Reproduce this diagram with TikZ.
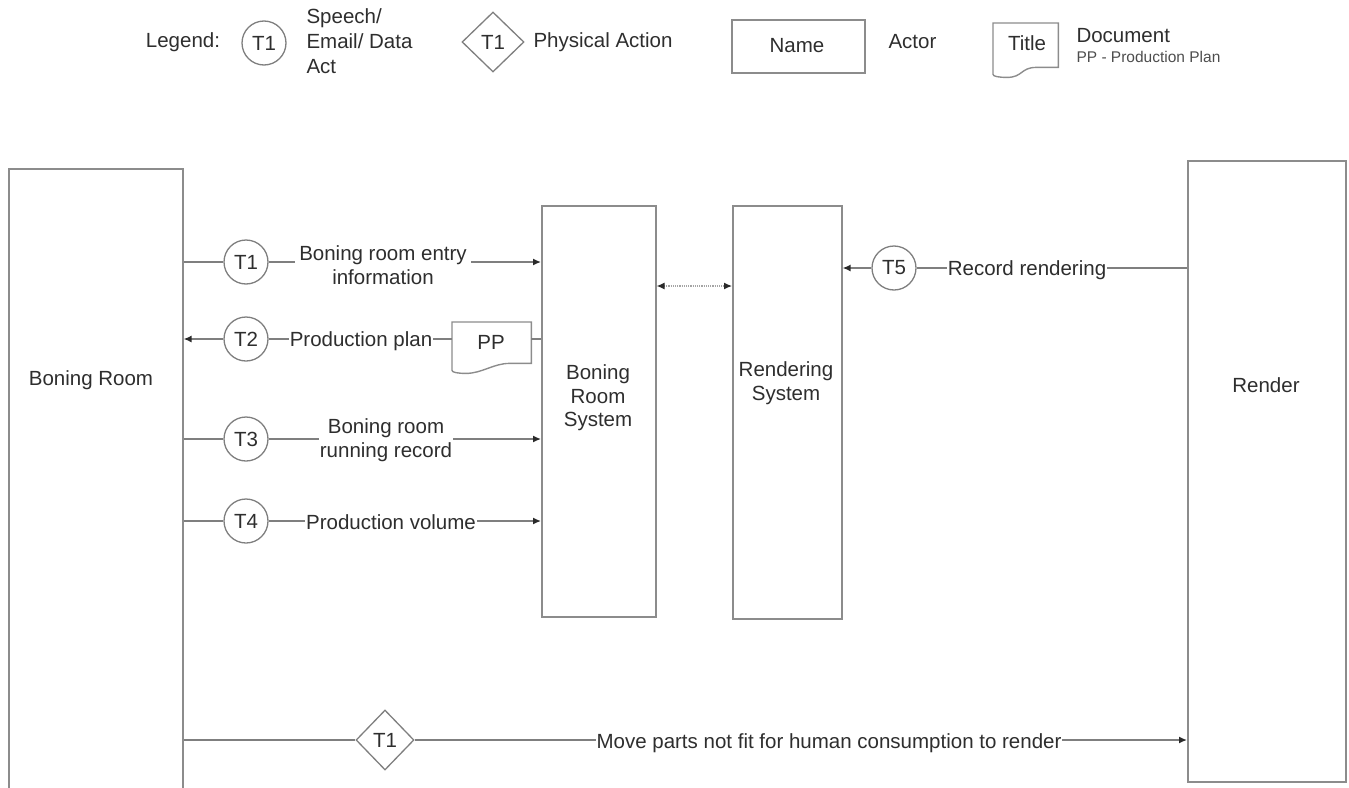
\documentclass[tikz,border=0pt]{standalone}
\usepackage{fontspec}
\setmainfont{Liberation Sans}
\usetikzlibrary{arrows.meta,shapes.geometric}
\definecolor{txt}{HTML}{2E2E2E}
\definecolor{lnc}{HTML}{7F7F7F}
\definecolor{bxc}{HTML}{8C8C8C}
\definecolor{tipc}{HTML}{2A2A2A}
\newcommand{\docoutline}[1]{%
  \draw[docline] (#1.north west) -- (#1.north east) -- ([yshift=10pt]#1.south east)
    -- ([xshift=-22pt,yshift=10pt]#1.south east)
    .. controls ([xshift=-38pt,yshift=10pt]#1.south east) and ([xshift=30pt]#1.south west) .. ([xshift=14pt]#1.south west)
    .. controls ([xshift=6pt]#1.south west) and ([yshift=1pt]#1.south west) .. ([yshift=3pt]#1.south west) -- cycle;}
\begin{document}
\begin{tikzpicture}[x=1pt,y=-1pt,
  font=\fontsize{20.5}{23.5}\selectfont, text=txt,
  actorbox/.style={draw=bxc,line width=1.6pt,inner sep=0pt,anchor=north west},
  docline/.style={draw=bxc,line width=1.4pt},
  act/.style={circle,draw=lnc,line width=1.3pt,minimum size=44pt,inner sep=0pt},
  phys/.style={diamond,draw=lnc,line width=1.3pt,minimum width=58pt,minimum height=60pt,inner sep=0pt},
  conn/.style={draw=lnc,line width=1.4pt},
  arr/.style={conn,-{Latex[length=8pt,width=7pt,color=tipc]}},
  lbl/.style={fill=white,inner sep=1pt,align=center}]
\useasboundingbox (0,0) rectangle (1349,787);
\clip (0,0) rectangle (1349,787);
% legend
\node (leg) at (183,42) {Legend:};
\node[act] (lc) at (264,43) {T1};
\node[anchor=west,align=left,font=\fontsize{20.5}{25}\selectfont] (lct) at (303,41) {Speech/\\Email/ Data\\Act};
\node[phys,minimum width=62pt] (ld) at (493,42) {T1};
\node[anchor=west] (ldt) at (530,42) {Physical Action};
\node[actorbox,minimum width=133pt,minimum height=53pt] (lname) at (731,19) {};
\node (lnamet) at (797,46) {Name};
\node[anchor=west] (lactor) at (885,42) {Actor};
\node[inner sep=0pt,anchor=north west,minimum width=65pt,minimum height=54pt] (ldoc) at (993,23) {};
\docoutline{ldoc}
\node (ldoct) at (1027,43) {Title};
\node[anchor=west] (ldocn) at (1073,36) {Document};
\node[anchor=west,font=\fontsize{15.5}{18}\selectfont,text=txt!85] (ldocs) at (1073,57) {PP - Production Plan};
% actors
\node[actorbox,minimum width=174pt,minimum height=650pt] (br) at (8,168) {};
\node (brt) at (91,380) {Boning Room};
\node[actorbox,minimum width=114pt,minimum height=411pt] (bs) at (541,205) {};
\node[align=center] (bst) at (598,398) {Boning\\Room\\System};
\node[actorbox,minimum width=109pt,minimum height=413pt] (rs) at (732,205) {};
\node[align=center] (rst) at (786,383) {Rendering\\System};
\node[actorbox,minimum width=158pt,minimum height=621pt] (rd) at (1187,160) {};
\node (rdt) at (1266,385) {Render};
% acts
\node[act] (t1) at (246,262) {T1};
\node[act] (t2) at (246,339) {T2};
\node[act] (t3) at (246,439) {T3};
\node[act] (t4) at (246,521) {T4};
\node[act] (t5) at (894,268) {T5};
\node[phys] (t6) at (385,740) {T1};
\node[inner sep=0pt,anchor=north west,minimum width=79pt,minimum height=51pt] (pp) at (452,322) {};
\docoutline{pp}
\node (ppt) at (491,342) {PP};
\coordinate (dd) at (693,286);
% connectors
\draw[conn] (br.east |- t1) -- (t1.west);
\draw[arr] (t1.east) -- (bs.west |- t1);
\draw[arr] (t2.west) -- (br.east |- t2);
\draw[conn] (t2.east) -- (pp.west |- t2);
\draw[conn] (pp.east |- t2) -- (bs.west |- t2);
\draw[conn] (br.east |- t3) -- (t3.west);
\draw[arr] (t3.east) -- (bs.west |- t3);
\draw[conn] (br.east |- t4) -- (t4.west);
\draw[arr] (t4.east) -- (bs.west |- t4);
\draw[conn] (rd.west |- t5) -- (t5.east);
\draw[arr] (t5.west) -- (rs.east |- t5);
\draw[conn] (br.east |- t6) -- (t6.west);
\draw[arr] (t6.east) -- (rd.west |- t6);
\draw[draw=lnc!70,line width=1.2pt,densely dotted,{Latex[length=8pt,width=7pt,color=tipc]}-{Latex[length=8pt,width=7pt,color=tipc]}] (bs.east |- dd) -- (rs.west |- dd);
% labels on connectors
\node[lbl,inner xsep=4pt] (l1) at (383,265) {Boning room entry\\information};
\node[lbl] (l2) at (361,341) {Production plan};
\node[lbl] (l3) at (386,440) {Boning room\\running record};
\node[lbl] (l4) at (391,522) {Production volume};
\node[lbl] (l5) at (1027,270) {Record rendering};
\node[lbl] (l6) at (829,743) {Move parts not fit for human consumption to render};
\end{tikzpicture}
\end{document}
